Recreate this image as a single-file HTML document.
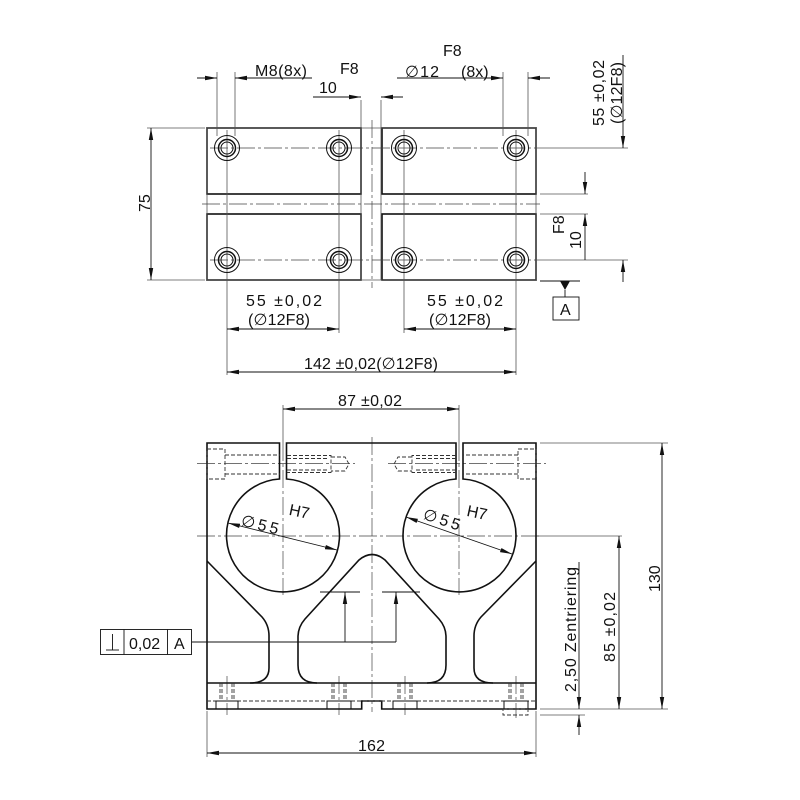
<!DOCTYPE html>
<html><head><meta charset="utf-8"><style>
html,body{margin:0;padding:0;background:#fff}
svg{display:block}
text{font-family:"Liberation Sans",sans-serif;font-size:16px;fill:#111}
</style></head><body>
<svg width="800" height="800" viewBox="0 0 800 800" xmlns="http://www.w3.org/2000/svg">
<defs>
<marker id="a" viewBox="0 0 12 6" refX="12" refY="3" markerWidth="12" markerHeight="6" orient="auto-start-reverse" markerUnits="userSpaceOnUse"><path d="M0,0.8 L12,3 L0,5.2z" fill="#111"/></marker>
</defs>
<g fill="none" stroke="#111">
<g stroke-width="1.6">
<rect x="207" y="128" width="154" height="66"/>
<rect x="382" y="128" width="154" height="66"/>
<rect x="207" y="214" width="154" height="66"/>
<rect x="382" y="214" width="154" height="66"/>
</g>
<g stroke-width="0.8" stroke="#555">
<line x1="207" y1="128" x2="536" y2="128"/><line x1="207" y1="280" x2="536" y2="280"/>
<line x1="207" y1="128" x2="207" y2="280"/><line x1="536" y1="128" x2="536" y2="280"/>
<line x1="361" y1="100" x2="361" y2="280"/><line x1="381" y1="100" x2="381" y2="280"/>
</g>
<g stroke-width="0.7" stroke="#444" stroke-dasharray="18,3,3,3">
<line x1="372" y1="120" x2="372" y2="288"/>
<line x1="202" y1="204" x2="540" y2="204"/>
<line x1="210" y1="148" x2="536" y2="148"/>
<line x1="210" y1="260" x2="536" y2="260"/>
</g>
<g stroke-width="0.8" stroke="#555">
<line x1="227" y1="130" x2="227" y2="375"/><line x1="339" y1="130" x2="339" y2="333"/>
<line x1="404" y1="130" x2="404" y2="333"/><line x1="516" y1="130" x2="516" y2="375"/>
<line x1="217" y1="72" x2="217" y2="136"/><line x1="235" y1="72" x2="235" y2="136"/>
<line x1="503" y1="72" x2="503" y2="136"/><line x1="528" y1="72" x2="528" y2="136"/>
<line x1="536" y1="148" x2="628" y2="148"/><line x1="536" y1="260" x2="628" y2="260"/>
<line x1="540" y1="194" x2="588" y2="194"/><line x1="540" y1="214" x2="588" y2="214"/>
<line x1="147" y1="128" x2="205" y2="128"/><line x1="147" y1="280" x2="205" y2="280"/>
</g>
<g stroke-width="1">
<circle cx="227" cy="148" r="12.5"/><circle cx="227" cy="148" r="8.5" stroke-width="1.5"/><circle cx="227" cy="148" r="6"/>
<circle cx="339" cy="148" r="12.5"/><circle cx="339" cy="148" r="8.5" stroke-width="1.5"/><circle cx="339" cy="148" r="6"/>
<circle cx="404" cy="148" r="12.5"/><circle cx="404" cy="148" r="8.5" stroke-width="1.5"/><circle cx="404" cy="148" r="6"/>
<circle cx="516" cy="148" r="12.5"/><circle cx="516" cy="148" r="8.5" stroke-width="1.5"/><circle cx="516" cy="148" r="6"/>
<circle cx="227" cy="260" r="12.5"/><circle cx="227" cy="260" r="8.5" stroke-width="1.5"/><circle cx="227" cy="260" r="6"/>
<circle cx="339" cy="260" r="12.5"/><circle cx="339" cy="260" r="8.5" stroke-width="1.5"/><circle cx="339" cy="260" r="6"/>
<circle cx="404" cy="260" r="12.5"/><circle cx="404" cy="260" r="8.5" stroke-width="1.5"/><circle cx="404" cy="260" r="6"/>
<circle cx="516" cy="260" r="12.5"/><circle cx="516" cy="260" r="8.5" stroke-width="1.5"/><circle cx="516" cy="260" r="6"/>
</g>
<g stroke-width="0.9">
<line x1="197" y1="78" x2="217" y2="78" marker-end="url(#a)"/>
<line x1="312" y1="78" x2="235" y2="78" marker-end="url(#a)"/>
<line x1="313" y1="97" x2="361" y2="97" marker-end="url(#a)"/>
<line x1="403" y1="97" x2="381" y2="97" marker-end="url(#a)"/>
<line x1="397" y1="78" x2="503" y2="78" marker-end="url(#a)"/>
<line x1="550" y1="78" x2="528" y2="78" marker-end="url(#a)"/>
<line x1="623" y1="55" x2="623" y2="148" marker-end="url(#a)"/>
<line x1="623" y1="282" x2="623" y2="260" marker-end="url(#a)"/>
<line x1="585" y1="172" x2="585" y2="194" marker-end="url(#a)"/>
<line x1="585" y1="260" x2="585" y2="214" marker-end="url(#a)"/>
<line x1="151" y1="128" x2="151" y2="280" marker-start="url(#a)" marker-end="url(#a)"/>
<line x1="227" y1="329" x2="339" y2="329" marker-start="url(#a)" marker-end="url(#a)"/>
<line x1="404" y1="329" x2="516" y2="329" marker-start="url(#a)" marker-end="url(#a)"/>
<line x1="227" y1="372" x2="516" y2="372" marker-start="url(#a)" marker-end="url(#a)"/>
<line x1="540" y1="281" x2="580" y2="281"/>
</g>
<path d="M560,281 L570,281 L565,290z" fill="#111" stroke="none"/>
<line x1="565" y1="290" x2="565" y2="297" stroke-width="0.9"/>
<rect x="553" y="297" width="26" height="23" stroke-width="0.9"/>

<g stroke-width="0.8" stroke="#555">
<line x1="283" y1="405" x2="283" y2="443"/><line x1="459" y1="405" x2="459" y2="443"/>
<line x1="540" y1="443" x2="668" y2="443"/><line x1="540" y1="709" x2="668" y2="709"/>
<line x1="540" y1="715" x2="585" y2="715"/>
<line x1="207" y1="711" x2="207" y2="757"/><line x1="536" y1="711" x2="536" y2="757"/>
<line x1="536" y1="536" x2="622" y2="536"/>
</g>
<g stroke-width="0.7" stroke="#444" stroke-dasharray="18,3,3,3">
<line x1="372" y1="437" x2="372" y2="712"/>
<line x1="197" y1="536" x2="540" y2="536"/>
<line x1="197" y1="463.5" x2="355" y2="463.5"/>
<line x1="388" y1="463.5" x2="546" y2="463.5"/>
<line x1="283" y1="443" x2="283" y2="595"/>
<line x1="459" y1="443" x2="459" y2="595"/>
<line x1="227" y1="676" x2="227" y2="715"/><line x1="339" y1="676" x2="339" y2="715"/>
<line x1="405" y1="676" x2="405" y2="715"/><line x1="516" y1="676" x2="516" y2="718"/>
</g>
<g stroke-width="1.6">
<path d="M207,443 L279.5,443 L279.5,479 A56.5,56.5 0 1 0 286.5,479 L286.5,443 L456,443 L456,479 A56.5,56.5 0 1 0 463,479 L463,443 L536,443 L536,709 L381.7,709 L381.7,701 L361.7,701 L361.7,709 L207,709 Z"/>
<line x1="207" y1="683" x2="536" y2="683"/>
<path d="M207,561 L262,617 Q269,625 269,636 L269,668 Q269,683 250,683"/>
<path d="M536,561 L481,617 Q474,625 474,636 L474,668 Q474,683 493,683"/>
<path d="M317,683 Q298,683 298,665 L298,637 Q298,627 305,619 L359,560 Q372,549 385,560 L439,619 Q446,627 446,637 L446,665 Q446,683 427,683"/>
</g>
<g stroke-width="0.9" stroke="#333" stroke-dasharray="4,2">
<rect x="207" y="449" width="18" height="30"/>
<line x1="225" y1="455" x2="280" y2="455"/><line x1="225" y1="474" x2="280" y2="474"/>
<path d="M287,455.5 L331,455.5 L331,472.5 L287,472.5 M287,458.5 L329,458.5 M287,470 L329,470 M331,457 L345,457 L349,464 L345,471 L331,471"/>
<rect x="518" y="449" width="18" height="30"/>
<line x1="518" y1="455" x2="463" y2="455"/><line x1="518" y1="474" x2="463" y2="474"/>
<path d="M456,455.5 L412,455.5 L412,472.5 L456,472.5 M456,458.5 L414,458.5 M456,470 L414,470 M412,457 L398,457 L394,464 L398,471 L412,471"/>
<line x1="207" y1="701" x2="536" y2="701"/>
<path d="M220,683 L220,701 M234,683 L234,701 M222,683 L222,701 M232,683 L232,701"/>
<path d="M332,683 L332,701 M346,683 L346,701 M334,683 L334,701 M344,683 L344,701"/>
<path d="M398,683 L398,701 M412,683 L412,701 M400,683 L400,701 M410,683 L410,701"/>
<path d="M509,683 L509,701 M523,683 L523,701 M511,683 L511,701 M521,683 L521,701"/>
<rect x="503" y="709" width="25" height="6"/>
</g>
<g stroke-width="1">
<path d="M216,709 L216,701 L238,701 L238,709"/>
<path d="M327,709 L327,701 L351,701 L351,709"/>
<path d="M393,709 L393,701 L417,701 L417,709"/>
<path d="M504,709 L504,701 L528,701 L528,709"/>
</g>
<g stroke-width="0.9">
<line x1="283" y1="409" x2="459" y2="409" marker-start="url(#a)" marker-end="url(#a)"/>
<line x1="662" y1="443" x2="662" y2="709" marker-start="url(#a)" marker-end="url(#a)"/>
<line x1="619" y1="536" x2="619" y2="709" marker-start="url(#a)" marker-end="url(#a)"/>
<line x1="579" y1="562" x2="579" y2="709" marker-end="url(#a)"/>
<line x1="579" y1="735" x2="579" y2="715" marker-end="url(#a)"/>
<line x1="207" y1="753" x2="536" y2="753" marker-start="url(#a)" marker-end="url(#a)"/>
<line x1="228" y1="523" x2="337" y2="550" marker-start="url(#a)" marker-end="url(#a)"/>
<line x1="406" y1="517" x2="512" y2="554" marker-start="url(#a)" marker-end="url(#a)"/>
<line x1="192" y1="642" x2="396" y2="642"/>
<line x1="345" y1="642" x2="345" y2="592" marker-end="url(#a)"/>
<line x1="396" y1="642" x2="396" y2="592" marker-end="url(#a)"/>
<line x1="320" y1="592" x2="360" y2="592"/>
<line x1="382" y1="592" x2="420" y2="592"/>
<rect x="100.5" y="629.5" width="91" height="25"/>
<line x1="124" y1="629.5" x2="124" y2="654.5"/><line x1="167.5" y1="629.5" x2="167.5" y2="654.5"/>
<line x1="106" y1="650" x2="119" y2="650"/><line x1="112.5" y1="634" x2="112.5" y2="650"/>
</g>
</g>
<text x="255" y="76" textLength="52">M8(8x)</text>
<text x="340" y="74">F8</text>
<text x="319" y="93">10</text>
<text x="443" y="56">F8</text>
<text x="405" y="77" textLength="34">∅12</text>
<text x="461" y="77">(8x)</text>
<text transform="translate(604,126) rotate(-90)" textLength="66">55 ±0,02</text>
<text transform="translate(622,124) rotate(-90)" textLength="62">(∅12F8)</text>
<text transform="translate(564,234) rotate(-90)">F8</text>
<text transform="translate(581,249) rotate(-90)">10</text>
<text transform="translate(150,212) rotate(-90)">75</text>
<text x="560" y="315">A</text>
<text x="246" y="306" textLength="76">55 ±0,02</text>
<text x="248" y="325" textLength="62">(∅12F8)</text>
<text x="427" y="306" textLength="76">55 ±0,02</text>
<text x="429" y="325" textLength="62">(∅12F8)</text>
<text x="304" y="369" textLength="134">142 ±0,02(∅12F8)</text>
<text x="338" y="406" textLength="64">87 ±0,02</text>
<text transform="translate(660,592) rotate(-90)">130</text>
<text transform="translate(615,662) rotate(-90)" textLength="70">85 ±0,02</text>
<text transform="translate(576,692) rotate(-90)" textLength="125">2,50 Zentriering</text>
<text x="358" y="751" textLength="27">162</text>
<text x="129" y="649">0,02</text>
<text x="174" y="649">A</text>
<text x="289" y="517" transform="rotate(12,300,512)">H7</text>
<text x="467" y="518" transform="rotate(12,477,512)">H7</text>
<text x="241" y="529" transform="rotate(14,256,524)" textLength="38">∅55</text>
<text x="423" y="523" transform="rotate(18,436,518)" textLength="38">∅55</text>
</svg>
</body></html>
